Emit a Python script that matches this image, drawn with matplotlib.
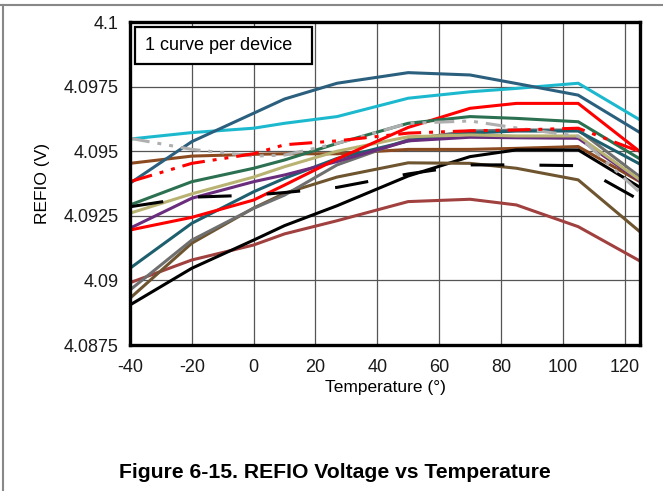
import matplotlib
matplotlib.use("Agg")
import matplotlib.pyplot as plt
from matplotlib.lines import Line2D
from matplotlib.patches import Rectangle
from matplotlib.ticker import FixedLocator

plt.rcParams['font.family'] = ['Liberation Sans', 'DejaVu Sans']

# temperature points (deg)
temps = [-40, -20, 0, 10, 27, 50, 70, 85, 105, 125]

# REFIO (V), one curve per device
dev_steel = [4.09376, 4.09537, 4.09647, 4.09702, 4.09763, 4.09804, 4.09795, 4.09762, 4.09717, 4.09572]
dev_cyan = [4.09547, 4.09572, 4.09589, 4.09608, 4.09634, 4.09705, 4.09730, 4.09743, 4.09763, 4.09621]
dev_red = [4.09195, 4.09244, 4.09311, 4.09369, 4.09470, 4.09592, 4.09666, 4.09685, 4.09685, 4.09498]
dev_green = [4.09292, 4.09382, 4.09434, 4.09466, 4.09530, 4.09608, 4.09634, 4.09627, 4.09614, 4.09470]
dev_brown = [4.09453, 4.09481, 4.09488, 4.09490, 4.09490, 4.09507, 4.09507, 4.09511, 4.09518, 4.09382]
dev_khaki = [4.09260, 4.09335, 4.09400, 4.09440, 4.09500, 4.09556, 4.09563, 4.09559, 4.09559, 4.09389]
dev_purple = [4.09202, 4.09318, 4.09382, 4.09408, 4.09460, 4.09540, 4.09554, 4.09552, 4.09550, 4.09385]
dev_teal = [4.09047, 4.09221, 4.09343, 4.09395, 4.09472, 4.09540, 4.09570, 4.09578, 4.09578, 4.09450]
dev_gray = [4.08963, 4.09156, 4.09279, 4.09330, 4.09447, 4.09545, 4.09578, 4.09582, 4.09582, 4.09401]
dev_olive = [4.08931, 4.09144, 4.09280, 4.09337, 4.09400, 4.09455, 4.09453, 4.09434, 4.09389, 4.09188]
dev_darkred = [4.08991, 4.09079, 4.09137, 4.09180, 4.09231, 4.09305, 4.09314, 4.09292, 4.09208, 4.09075]
dev_black = [4.08905, 4.09047, 4.09156, 4.09212, 4.09289, 4.09404, 4.09479, 4.09505, 4.09505, 4.09360]
dev_black_dash = [4.09285, 4.09322, 4.09330, 4.09340, 4.09360, 4.09412, 4.09447, 4.09447, 4.09444, 4.09310]
dev_gray_dd = [4.09550, 4.09507, 4.09481, 4.09485, 4.09530, 4.09608, 4.09617, 4.09590, 4.09558, 4.09340]
dev_red_dd = [4.09382, 4.09453, 4.09490, 4.09525, 4.09540, 4.09570, 4.09579, 4.09582, 4.09589, 4.09498]

x_ticks = [-40, -20, 0, 20, 40, 60, 80, 100, 120]
y_ticks = [4.0875, 4.09, 4.0925, 4.095, 4.0975, 4.1]
y_labels = ["4.0875", "4.09", "4.0925", "4.095", "4.0975", "4.1"]

LW = 2.2
solid = [
    (dev_brown, "#8B4A1F"),
    (dev_darkred, "#A0403F"),
    (dev_black, "#000000"),
    (dev_olive, "#6E5530"),
    (dev_gray, "#6F6F6F"),
    (dev_teal, "#1D5F6E"),
    (dev_purple, "#6A2C7C"),
    (dev_khaki, "#B8B373"),
    (dev_red, "#FF0000"),
    (dev_green, "#2B7050"),
    (dev_cyan, "#1CB9CE"),
    (dev_steel, "#2B5F7E"),
]

fig = plt.figure(figsize=(6.63, 4.91), dpi=100)
ax = fig.add_axes([130 / 663, 1 - 345 / 491, 510 / 663, 323 / 491])

for vals, col in solid:
    ax.plot(temps, vals, color=col, lw=LW, solid_joinstyle="miter")

ax.plot(temps, dev_black_dash, color="black", lw=LW, dashes=(11, 11.5), dash_capstyle="butt")
ax.plot(temps, dev_gray_dd, color="#AFAFAF", lw=LW, dashes=(6.5, 2.6, 1.3, 2.6, 1.3, 2.6), dash_capstyle="butt")
ax.plot(temps, dev_red_dd, color="#FF0000", lw=LW, dashes=(7.5, 2.6, 1.3, 2.6, 1.3, 2.6), dash_capstyle="butt")

ax.set_xlim(-40, 125)
ax.set_ylim(4.0875, 4.1)
ax.xaxis.set_major_locator(FixedLocator(x_ticks))
ax.set_xticklabels([str(t) for t in x_ticks])
ax.yaxis.set_major_locator(FixedLocator(y_ticks))
ax.set_yticklabels(y_labels)
ax.tick_params(length=0, labelsize=13, colors="#1a1a1a")
ax.tick_params(axis="y", pad=8)
ax.tick_params(axis="x", pad=10)
ax.grid(True, color="#555555", lw=0.9)
ax.set_axisbelow(True)
for s in ax.spines.values():
    s.set_linewidth(2.4)
    s.set_color("black")

ax.set_xlabel("Temperature (°)", fontsize=12.5, labelpad=3)
ax.set_ylabel("REFIO (V)", fontsize=12.5, labelpad=10)

# annotation box
ax.add_patch(Rectangle((5 / 510, 1 - 42 / 323), 177 / 510, 37 / 323, transform=ax.transAxes,
                       facecolor="white", edgecolor="black", lw=1.6, zorder=5))
ax.text(15 / 510, 1 - 23.5 / 323, "1 curve per device", transform=ax.transAxes,
        fontsize=13, va="center", ha="left", zorder=6)

# page frame
fig.add_artist(Line2D([0, 1], [1 - 5 / 491, 1 - 5 / 491], color="#888888", lw=1.5))
fig.add_artist(Line2D([3 / 663, 3 / 663], [0, 1 - 5 / 491], color="#888888", lw=1.5))

fig.text(335 / 663, 1 - 472 / 491, "Figure 6-15. REFIO Voltage vs Temperature",
         ha="center", va="center", fontsize=15.2, fontweight="bold")

fig.savefig("out.png", dpi=100)
